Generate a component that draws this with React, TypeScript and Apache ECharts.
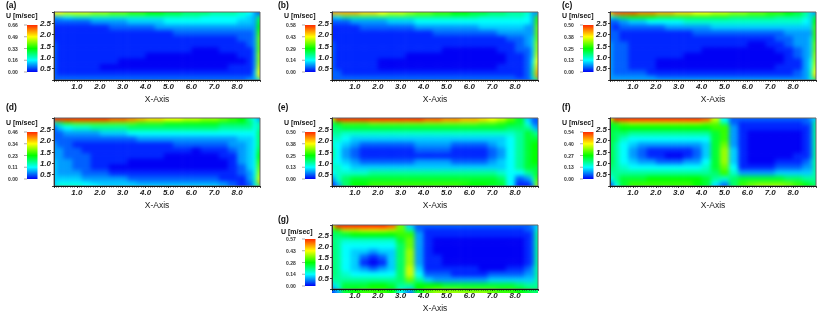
import React, { useEffect, useRef } from "react";
import * as echarts from "echarts";

// Column and row edges of the sampled field (x 0..9, y 3..0)
const xEdges = [0,.12,.4,.8,1.2,1.6,2,2.4,2.8,3.2,3.6,4,4.4,4.8,5.2,5.6,6,6.4,6.8,7.2,7.6,8,8.4,8.7,8.86,9];
const yEdges = [3,2.85,2.7,2.45,2.2,1.95,1.7,1.45,1.2,.95,.7,.45,.2,.08,0];

// Field levels: share of each panel's colour scale, in twentieths
const fieldA = [
[15,15,14,14,14,13,13,12,12,11,11,10,10,9,9,8,8,8,7,7,7,6,5,3,2],
[3,4,5,6,6,6,6,6,6,6,6,6,6,6,6,6,6,5,5,5,5,5,4,3,8],
[2,2,2,2,2,3,3,3,3,4,4,4,4,5,5,5,5,5,5,5,5,4,4,3,9],
[1,1,1,1,1,1,1,2,2,2,2,2,3,3,3,3,3,3,3,3,3,3,3,3,10],
[1,1,1,1,1,1,1,1,1,1,1,1,1,1,2,2,2,2,2,2,2,2,2,3,11],
[1,1,1,1,1,1,1,1,1,1,1,1,1,1,1,1,1,1,1,1,1,2,2,3,12],
[2,1,1,1,1,1,1,1,1,1,1,1,1,1,1,1,1,1,1,1,1,1,2,3,12],
[2,1,1,1,1,1,1,1,1,1,1,1,1,1,1,1,0,0,0,1,1,1,1,3,12],
[2,1,1,1,1,1,1,1,1,1,1,0,0,0,0,0,0,0,0,0,0,1,1,3,13],
[2,1,1,1,1,1,1,1,0,0,0,0,0,0,0,0,0,0,0,0,0,0,1,3,13],
[2,1,1,1,1,1,0,0,0,0,0,0,0,0,0,0,0,0,0,0,1,1,1,3,14],
[2,1,1,1,1,1,1,1,1,1,1,1,1,1,1,1,1,1,1,1,1,1,1,4,15],
[2,2,2,2,2,2,2,2,2,2,2,2,2,2,2,2,2,2,2,2,2,2,2,4,16],
[2,2,2,2,2,2,2,2,2,2,2,2,2,2,2,2,2,2,2,2,2,2,3,3,6],
];
const fieldB = [
[17,17,17,17,16,16,15,14,14,13,12,12,11,11,10,10,9,9,8,8,7,7,6,3,3],
[4,5,7,7,7,7,7,7,7,7,7,7,7,7,7,7,7,6,6,6,6,6,5,3,11],
[2,2,2,3,3,3,3,4,4,4,5,5,5,5,5,5,5,5,5,5,5,5,5,3,11],
[1,1,1,1,2,2,2,2,2,2,3,3,3,3,3,3,3,4,4,4,4,4,3,3,12],
[1,1,1,1,1,1,1,1,1,1,1,1,2,2,2,2,2,2,2,3,3,3,3,3,12],
[1,1,1,1,1,1,1,1,1,1,1,1,1,1,1,1,1,1,1,1,2,2,3,4,12],
[2,1,1,1,1,1,1,1,1,1,1,1,1,1,1,1,1,1,1,1,1,2,3,4,13],
[2,1,1,1,1,1,1,1,1,1,1,1,1,0,0,0,0,0,0,1,1,2,2,4,13],
[2,1,1,1,1,1,1,1,1,0,0,0,0,0,0,0,0,0,0,0,1,1,2,4,14],
[2,1,1,1,1,1,0,0,0,0,0,0,0,0,0,0,0,0,0,0,1,1,2,5,15],
[2,1,1,1,1,1,0,0,0,0,0,0,0,0,0,0,0,0,0,1,1,1,2,6,16],
[2,2,1,1,1,1,1,1,1,1,1,1,1,1,1,1,1,1,1,1,1,1,2,7,17],
[2,2,2,2,2,2,2,2,2,2,2,2,2,2,2,2,2,2,2,2,2,1,2,6,18],
[2,2,2,2,2,2,2,2,2,2,2,2,2,2,2,2,2,2,2,2,2,2,2,4,8],
];
const fieldC = [
[16,19,19,19,18,18,17,17,16,16,15,15,14,14,13,13,12,12,11,11,10,9,7,4,3],
[5,7,9,10,10,10,9,9,9,9,9,9,9,9,8,8,8,8,8,7,7,7,6,4,9],
[2,2,3,4,4,5,5,5,5,6,6,6,6,6,6,6,6,6,6,6,6,6,5,4,10],
[2,1,2,2,2,2,2,3,3,3,3,3,4,4,4,4,4,4,4,4,4,4,4,4,11],
[2,2,1,1,1,1,1,1,1,1,2,2,2,2,2,2,2,2,2,2,3,3,3,3,11],
[2,2,1,1,1,1,1,1,1,1,1,1,1,1,1,1,1,1,1,2,2,3,3,4,11],
[3,2,2,1,1,1,1,1,1,1,1,1,1,1,1,1,0,0,1,1,2,3,3,4,12],
[3,2,2,1,1,1,1,1,1,1,1,0,0,0,0,0,0,0,0,1,1,2,3,4,12],
[3,2,2,1,1,1,1,1,1,0,0,0,0,0,0,0,0,0,0,0,1,2,3,4,13],
[3,2,2,1,1,1,0,0,0,0,0,0,0,0,0,0,0,0,0,0,1,1,3,5,13],
[3,2,2,1,1,1,0,0,0,0,0,0,0,0,0,0,0,0,0,1,1,1,3,5,14],
[3,2,2,2,2,1,1,1,1,1,1,1,1,1,1,1,1,1,1,1,1,2,3,6,15],
[3,3,3,3,3,3,2,2,2,2,2,2,2,2,2,2,2,2,2,2,2,2,3,6,17],
[3,3,3,3,3,3,3,3,3,3,3,3,3,3,3,3,3,3,3,3,3,3,3,5,8],
];
const fieldD = [
[20,20,20,20,20,20,20,19,19,18,17,16,16,15,15,14,14,13,13,12,11,10,7,5,3],
[6,8,11,12,12,12,12,12,12,12,11,11,11,10,10,10,10,10,10,9,9,9,8,5,7],
[2,4,5,6,6,7,7,7,7,8,8,8,8,8,8,8,8,8,8,7,7,7,7,5,7],
[2,2,3,3,3,3,4,4,4,5,5,5,5,5,5,5,5,5,5,5,5,5,5,5,8],
[2,2,2,2,2,2,2,2,2,2,3,3,3,3,3,3,3,3,3,3,3,4,4,5,8],
[3,2,2,1,1,1,1,1,1,1,1,1,1,1,2,2,2,2,2,2,3,3,4,5,8],
[3,3,2,2,1,1,1,1,1,1,1,1,1,1,1,1,0,1,1,1,2,3,4,5,9],
[3,3,2,2,2,1,1,1,1,1,1,1,1,0,0,0,0,0,0,1,1,3,4,5,10],
[4,3,3,2,2,1,1,1,1,0,0,0,0,0,0,0,0,0,0,0,1,3,4,5,11],
[4,3,3,2,2,1,1,0,0,0,0,0,0,0,0,0,0,0,0,0,1,2,4,5,12],
[4,3,3,3,2,2,2,1,1,1,1,1,1,1,1,1,1,1,1,1,1,2,3,5,13],
[4,4,4,4,3,3,3,3,3,2,2,2,2,2,2,2,2,2,2,1,1,1,3,6,14],
[4,5,5,5,5,4,4,4,4,4,3,3,3,3,3,3,3,3,3,3,2,1,2,6,17],
[4,6,6,6,5,5,4,4,4,4,4,4,4,4,4,4,4,4,4,3,2,1,2,5,8],
];
const fieldE = [
[14,20,20,20,20,20,20,20,20,20,20,19,19,18,18,17,17,16,15,14,12,9,4,2,2],
[8,10,12,12,12,13,13,13,13,13,13,13,13,13,13,13,13,12,12,11,10,9,5,2,2],
[8,8,9,9,9,9,9,9,9,9,9,9,9,9,9,9,9,9,9,9,8,8,7,4,3],
[7,7,6,6,6,6,6,6,6,6,6,6,6,6,6,6,6,6,6,6,6,7,9,8,7],
[6,6,5,4,4,4,4,4,4,4,4,4,4,4,4,4,4,4,4,4,5,7,9,9,9],
[6,5,4,3,2,2,2,2,2,2,3,3,3,3,2,2,2,2,3,4,5,7,9,10,10],
[7,5,3,2,1,1,1,1,1,1,2,2,2,2,1,1,1,1,2,3,5,7,9,10,10],
[7,5,3,2,1,1,1,1,1,1,1,1,1,1,1,1,1,1,2,3,5,7,9,10,10],
[6,5,4,3,2,2,2,2,2,2,3,3,3,3,2,2,2,2,3,4,5,7,9,10,10],
[6,6,5,4,4,4,4,4,4,4,4,4,4,4,4,4,4,4,4,4,5,7,9,9,9],
[5,6,6,6,6,7,7,7,7,7,7,7,7,7,7,7,7,7,7,6,5,5,7,8,9],
[3,6,8,9,9,9,9,9,9,9,9,9,9,9,9,9,9,9,9,8,5,2,3,6,11],
[1,4,8,10,10,11,11,11,11,11,11,11,11,11,11,11,10,10,10,9,5,1,1,4,13],
[1,3,8,10,10,11,11,11,11,11,11,11,11,11,11,10,10,10,9,9,5,1,1,3,13],
];
const fieldF = [
[14,20,20,20,20,20,20,20,20,20,20,19,14,5,2,2,2,2,2,2,2,2,2,3,4],
[9,11,13,14,14,14,14,14,14,14,14,13,12,7,2,1,1,1,1,1,1,1,2,2,7],
[9,9,10,10,10,10,10,10,10,10,10,10,11,11,3,1,1,1,1,1,1,1,1,2,7],
[9,8,8,7,7,7,7,7,7,7,7,7,9,11,3,1,0,0,0,0,0,0,1,2,7],
[9,8,6,5,5,5,5,5,5,5,5,5,9,11,3,1,0,0,0,0,0,0,1,2,7],
[9,7,5,4,3,3,3,3,3,3,3,4,9,12,3,1,0,0,0,0,0,0,1,2,7],
[9,7,5,3,2,1,1,1,1,1,2,4,9,13,4,1,0,0,0,0,0,0,1,2,7],
[9,7,5,3,2,1,1,0,0,1,2,4,9,13,4,1,0,0,0,0,0,1,1,2,7],
[9,7,5,4,3,3,2,2,2,3,3,5,9,13,4,1,0,0,0,1,1,1,2,3,7],
[8,7,6,5,5,5,5,5,5,5,5,6,9,12,5,1,1,1,1,2,2,2,3,3,7],
[7,7,7,7,7,7,7,7,7,7,7,7,8,11,6,3,3,3,3,4,4,4,4,4,7],
[5,7,9,9,9,10,10,10,10,10,10,9,7,6,8,9,9,9,9,9,8,8,7,7,7],
[2,6,9,11,11,11,11,11,11,11,10,9,5,3,8,11,12,12,12,12,12,11,9,8,8],
[1,5,9,11,11,11,11,11,11,11,10,9,4,2,8,11,12,13,13,13,12,11,10,9,8],
];
const fieldG = [
[14,20,20,20,20,20,20,19,12,4,2,2,2,2,2,2,2,2,2,2,2,2,2,3,4],
[9,11,14,14,15,15,15,14,12,7,2,1,1,1,1,1,1,1,1,1,1,1,2,2,6],
[8,8,9,10,10,10,10,10,11,11,3,1,1,1,1,1,1,1,1,1,1,1,1,2,7],
[8,7,6,6,6,6,6,6,9,12,3,1,0,0,0,0,0,0,0,0,0,0,1,2,7],
[8,7,5,5,5,5,5,5,8,12,3,1,0,0,0,0,0,0,0,0,0,0,1,2,7],
[8,7,5,4,4,3,4,4,8,13,3,1,0,0,0,0,0,0,0,0,0,0,1,2,7],
[8,7,5,4,2,1,2,4,8,13,3,1,1,0,0,0,0,0,0,0,0,0,1,2,7],
[8,7,5,4,1,0,1,4,8,13,3,1,1,0,0,0,0,0,0,0,0,0,1,2,7],
[8,7,5,4,3,2,3,4,8,14,4,1,1,1,1,1,1,0,0,0,1,1,2,3,7],
[8,7,6,5,5,5,5,5,8,14,5,2,2,2,1,1,1,1,2,2,2,2,3,3,7],
[7,7,7,7,7,7,7,7,8,12,7,4,3,3,3,3,3,3,4,4,4,4,4,4,7],
[4,6,9,9,9,10,10,9,7,7,10,10,10,9,9,9,9,9,9,9,9,8,7,7,7],
[2,4,9,10,11,11,11,10,6,4,10,12,13,13,13,12,12,12,12,11,11,10,9,8,8],
[1,3,9,10,11,11,11,10,5,2,9,12,13,13,13,13,13,13,12,11,11,10,9,8,8],
];

const panelNames = ["(a)","(b)","(c)","(d)","(e)","(f)","(g)"];
const scaleA = ["0.66","0.49","0.33","0.16","0.00"];
const scaleB = ["0.58","0.43","0.29","0.14","0.00"];
const scaleC = ["0.50","0.38","0.25","0.13","0.00"];
const scaleD = ["0.46","0.34","0.23","0.11","0.00"];
const scaleE = ["0.50","0.38","0.25","0.13","0.00"];
const scaleF = ["0.54","0.40","0.27","0.13","0.00"];
const scaleG = ["0.57","0.43","0.28","0.14","0.00"];

const fields = [fieldA, fieldB, fieldC, fieldD, fieldE, fieldF, fieldG];
const scales = [scaleA, scaleB, scaleC, scaleD, scaleE, scaleF, scaleG];

// Layout, kept apart from the data
const W = 830, H = 313, PW = 206, PH = 68;
const frames = [
  { l: 54, t: 12, nameX: 6, nameY: 5, uX: 6, uY: 16, barT: 25 },
  { l: 332, t: 12, nameX: 278, nameY: 5, uX: 284, uY: 16, barT: 25 },
  { l: 610, t: 12, nameX: 562, nameY: 5, uX: 562, uY: 16, barT: 25 },
  { l: 54, t: 118, nameX: 6, nameY: 107, uX: 6, uY: 123, barT: 132 },
  { l: 332, t: 118, nameX: 278, nameY: 107, uX: 284, uY: 123, barT: 132 },
  { l: 610, t: 118, nameX: 562, nameY: 107, uX: 562, uY: 123, barT: 132 },
  { l: 332, t: 225, nameX: 278, nameY: 219, uX: 281, uY: 232, barT: 239 },
];
const BAR_H = 47, BAR_W = 10.5, FONT = "'Liberation Sans', Arial, sans-serif";
const rainbow = ["#0000f5", "#00ffff", "#00ff00", "#ffff00", "#ff2a00"];
const levelColors = ["#0000f5","#0026ff","#0060ff","#009cff","#00ceff","#00ffff","#00ffcc","#00ff99","#00ff66","#00ff33","#00ff00","#33ff00","#66ff00","#99ff00","#ccff00","#ffff00","#ffd500","#ffaa00","#ff8000","#ff5500","#ff2a00"];
const clipShape = frames.map((f) => `M${f.l} ${f.t}H${f.l + PW}V${f.t + PH}H${f.l}Z`).join(" ");

function heatOption() {
  const grids = frames.map((f) => ({ left: f.l, top: f.t, width: PW, height: PH }));
  const pad = 10;
  return {
    animation: false,
    grid: grids,
    xAxis: frames.map((_, i) => ({ type: "value", gridIndex: i, min: 0, max: 9, show: false })),
    yAxis: frames.map((_, i) => ({ type: "value", gridIndex: i, min: 0, max: 3, show: false })),
    visualMap: { show: false, type: "continuous", min: 0, max: 20, dimension: 4, inRange: { color: levelColors } },
    series: fields.map((field, i) => ({
      type: "custom",
      coordinateSystem: "cartesian2d",
      xAxisIndex: i,
      yAxisIndex: i,
      silent: true,
      clip: false,
      encode: { x: [0, 1], y: [2, 3] },
      data: field.flatMap((row, r) =>
        row.map((v, c) => [xEdges[c], xEdges[c + 1], yEdges[r + 1], yEdges[r], v])
      ),
      renderItem: (_: any, api: any) => {
        const x0 = api.value(0), x1 = api.value(1), y0 = api.value(2), y1 = api.value(3);
        const a = api.coord([x0, y1]), b = api.coord([x1, y0]);
        const left = a[0] - (x0 === 0 ? pad : 0), right = b[0] + (x1 === 9 ? pad : 0.6);
        const top = a[1] - (y1 === 3 ? pad : 0), bottom = b[1] + (y0 === 0 ? pad : 0.6);
        return {
          type: "rect",
          shape: { x: left, y: top, width: right - left, height: bottom - top },
          style: { fill: api.visual("color") },
        };
      },
    })),
  };
}

function overlayOption() {
  const hideEnds = (lo: number, hi: number) => (v: number) => (v <= lo || v >= hi ? "" : v.toFixed(1));
  const tickFont = { fontFamily: FONT, fontSize: 8, fontWeight: "bold", fontStyle: "italic", color: "#222" };
  const graphic: any[] = [];
  frames.forEach((f, i) => {
    graphic.push({ type: "text", left: f.nameX, top: f.nameY - 5,
      style: { text: panelNames[i], font: `bold 8.5px ${FONT}`, fill: "#111" } });
    graphic.push({ type: "text", left: f.uX, top: f.uY - 4,
      style: { text: "U [m/sec]", font: `bold 7px ${FONT}`, fill: "#111" } });
    const barL = f.l - 27;
    graphic.push({ type: "rect", shape: { x: barL, y: f.barT, width: BAR_W, height: BAR_H },
      style: { fill: new echarts.graphic.LinearGradient(0, 1, 0, 0,
        rainbow.map((color, k) => ({ offset: k / (rainbow.length - 1), color }))) } });
    scales[i].forEach((label, k) => {
      const y = f.barT + (BAR_H * k) / (scales[i].length - 1);
      graphic.push({ type: "line", shape: { x1: barL - 3, y1: y, x2: barL, y2: y },
        style: { stroke: "#777", lineWidth: 0.6 } });
      graphic.push({ type: "text", x: barL - 19, y: y - 2.5,
        style: { text: label, font: `bold 5px ${FONT}`, fill: "#333" } });
    });
  });
  return {
    animation: false,
    grid: frames.map((f) => ({ left: f.l, top: f.t, width: PW, height: PH, show: true, borderColor: "#666", borderWidth: 1, backgroundColor: "transparent" })),
    xAxis: frames.map((_, i) => ({
      type: "value", gridIndex: i, min: 0, max: 9, interval: 1,
      name: "X-Axis", nameLocation: "middle", nameGap: 14,
      nameTextStyle: { fontFamily: FONT, fontSize: 8.5, color: "#222" },
      axisLine: { show: true, lineStyle: { color: "#111", width: 1 } },
      axisTick: { show: true, inside: false, length: 2, lineStyle: { color: "#111", width: 0.8 } },
      minorTick: { show: true, splitNumber: 10, length: 1.5, lineStyle: { color: "#111", width: 0.8 } },
      splitLine: { show: false },
      axisLabel: { ...tickFont, margin: 2, formatter: hideEnds(0, 9) },
    })),
    yAxis: frames.map((_, i) => ({
      type: "value", gridIndex: i, min: 0, max: 3, interval: 0.5,
      axisLine: { show: true, lineStyle: { color: "#333", width: 1 } },
      axisTick: { show: true, length: 2, lineStyle: { color: "#111", width: 0.8 } },
      splitLine: { show: false },
      axisLabel: { ...tickFont, margin: 3, formatter: hideEnds(0, 3) },
    })),
    graphic,
    series: [],
  };
}

export default function App() {
  const heatRef = useRef<HTMLDivElement>(null);
  const overRef = useRef<HTMLDivElement>(null);
  useEffect(() => {
    document.body.style.margin = "0";
    const heat = echarts.init(heatRef.current!, undefined, { renderer: "svg" });
    heat.setOption(heatOption() as any);
    const over = echarts.init(overRef.current!, undefined, { renderer: "svg" });
    over.setOption(overlayOption() as any);
    return () => { heat.dispose(); over.dispose(); };
  }, []);
  return (
    <div style={{ position: "absolute", left: 0, top: 0, width: W, height: H, overflow: "hidden", background: "#fff" }}>
      <div style={{ position: "absolute", left: 0, top: 0, width: W, height: H, clipPath: `path('${clipShape}')` }}>
        <div style={{ width: W, height: H, filter: "blur(2px)" }}>
          <div ref={heatRef} style={{ width: W, height: H }} />
        </div>
      </div>
      <div ref={overRef} style={{ position: "absolute", left: 0, top: 0, width: W, height: H, filter: "blur(0.35px)" }} />
    </div>
  );
}
